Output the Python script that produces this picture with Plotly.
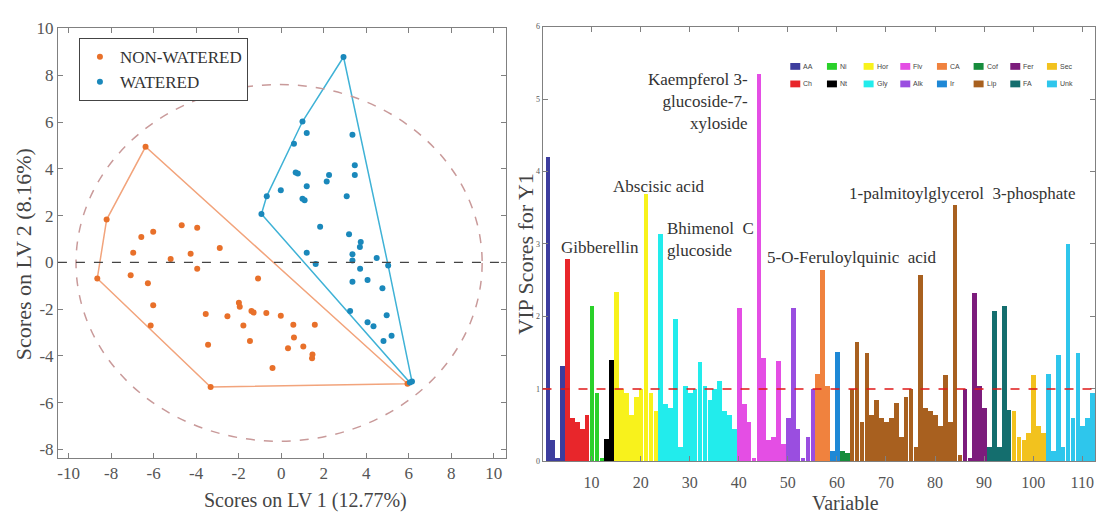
import plotly.graph_objects as go

# ---------------- Left panel data (PLS-DA scores) ----------------
nonwatered_x = [-6.38, -8.21, -6.58, -6.02, -4.68, -3.95, -6.96, -5.2, -4.26, -2.89,
                -8.65, -7.08, -6.27, -3.95, -1.09, -6.02, -6.14, -3.55, -3.44, -2.53,
                -1.99, -1.95, -1.78, -1.4, -1.3, -1.47, -0.7, -0.02, 0.57, 0.6,
                0.32, 1.04, 1.47, 1.45, 1.58, -0.41, -3.32, 5.94]
nonwatered_y = [4.94, 1.83, 1.08, 1.31, 1.59, 1.48, 0.41, 0.14, 0.37, 0.61,
                -0.69, -0.55, -0.9, -0.28, -0.69, -1.84, -2.7, -2.21, -3.53, -2.31,
                -1.73, -1.9, -2.7, -2.08, -2.15, -3.36, -2.17, -2.28, -2.67, -3.22,
                -3.67, -3.6, -3.94, -4.1, -2.67, -4.52, -5.33, -5.19]
watered_x = [2.93, 1.0, 1.2, 0.6, 3.35, 0.68, 0.78, 1.2, 1.0, 1.1,
             2.25, 2.14, 3.46, 3.46, 3.08, -0.02, -0.68, -0.93, 1.83, 3.19,
             3.74, 3.7, 1.2, 3.35, 4.49, 1.62, 5.03, 3.35, 3.71, 3.35,
             4.06, 4.76, 3.24, 4.96, 4.06, 4.34, 4.81, 5.19, 6.05, 6.15]
watered_y = [8.78, 6.02, 5.53, 5.07, 5.46, 3.84, 3.8, 3.25, 2.72, 2.65,
             3.73, 3.46, 4.15, 3.73, 2.83, 3.08, 2.83, 2.07, 1.52, 1.2,
             0.87, 0.65, 0.41, 0.34, 0.18, -0.07, -0.14, 0.08, -0.28, -0.83,
             -0.76, -1.11, -2.08, -2.26, -2.56, -2.73, -3.36, -3.14, -5.14, -5.1]
ellipse_x = [-9.65, 9.45]
ellipse_y = [-7.65, 7.6]
left_xticks = list(range(-10, 11, 2))
left_yticks = list(range(-8, 11, 2))

# ---------------- Right panel data (VIP scores) ----------------
group_names = ["AA", "Ch", "Ni", "Nt", "Hor", "Gly", "Flv", "Alk",
               "CA", "Ir", "Cof", "Lip", "Fer", "FA", "Sec", "Unk"]
group_start = [1, 5, 10, 13, 15, 24, 40, 50, 56, 59, 61, 63, 86, 91, 96, 103]
vip = [4.2, 0.3, 0.05, 1.33,
       2.8, 0.6, 0.55, 0.45, 0.65,
       2.15, 0.95, 0.05,
       0.32, 1.4,
       2.35, 1.0, 0.95, 0.65, 0.9, 1.0, 3.7, 0.95, 0.7,
       3.15, 0.8, 0.75, 1.97, 0.2, 1.05, 0.95, 1.0, 1.38, 1.05, 0.85, 1.0, 1.12, 0.7, 0.65, 0.45,
       2.13, 0.8, 0.55, 0.05, 5.35, 1.43, 0.3, 0.35, 1.39, 0.25,
       0.6, 2.12, 0.45, 0.05, 0.35, 1.0,
       1.22, 2.65, 1.05,
       0.15, 1.52,
       0.15, 0.12,
       1.0, 1.65, 0.55, 1.5, 0.65, 0.85, 0.6, 0.55, 0.6, 0.82, 0.35, 0.9, 1.0, 0.2, 2.58,
       0.75, 0.7, 0.65, 0.5, 1.2, 0.55, 3.55, 0.1,
       1.0, 0.05, 2.33, 1.05, 0.75,
       0.2, 2.08, 0.2, 2.15, 0.72,
       0.7, 0.35, 0.3, 0.4, 1.2, 0.5, 0.4,
       1.22, 0.15, 1.48, 0.2, 3.0, 0.6, 1.5, 0.5, 0.6, 0.95]
legend_row1 = ["AA", "Ni", "Hor", "Flv", "CA", "Cof", "Fer", "Sec"]
legend_row2 = ["Ch", "Nt", "Gly", "Alk", "Ir", "Lip", "FA", "Unk"]
right_xticks = list(range(10, 111, 10))
right_yticks = list(range(0, 7))
vip_threshold = 1

bar_labels = ["Gibberellin", "Abscisic acid", "Bhimenol\u00a0\u00a0C<br>glucoside",
              "Kaempferol 3-<br>glucoside-7-<br>xyloside",
              "5-O-Feruloylquinic\u00a0\u00a0acid",
              "1-palmitoylglycerol\u00a0\u00a03-phosphate"]

# ---------------- styles ----------------
group_colors = {"AA": "#3d3d9e", "Ch": "#e8262b", "Ni": "#2ad12a", "Nt": "#000000",
                "Hor": "#f8f21c", "Gly": "#22ecec", "Flv": "#e44ee4", "Alk": "#9a4ee0",
                "CA": "#f0823e", "Ir": "#1e88d6", "Cof": "#168c3c", "Lip": "#a8601f",
                "Fer": "#7c1c7c", "FA": "#146e6e", "Sec": "#f2c21e", "Unk": "#2ec6ec"}
SERIF = "Liberation Serif"
W, H = 1098, 520


def hull(xs, ys):
    pts = sorted(set(zip(xs, ys)))

    def cross(o, a, b):
        return (a[0] - o[0]) * (b[1] - o[1]) - (a[1] - o[1]) * (b[0] - o[0])
    lower, upper = [], []
    for p in pts:
        while len(lower) >= 2 and cross(lower[-2], lower[-1], p) <= 0:
            lower.pop()
        lower.append(p)
    for p in reversed(pts):
        while len(upper) >= 2 and cross(upper[-2], upper[-1], p) <= 0:
            upper.pop()
        upper.append(p)
    h = lower[:-1] + upper[:-1]
    h.append(h[0])
    return [p[0] for p in h], [p[1] for p in h]


fig = go.Figure()

# hulls
hx, hy = hull(nonwatered_x, nonwatered_y)
fig.add_trace(go.Scatter(x=hx, y=hy, mode="lines", line=dict(color="#f2a47c", width=1.5),
                         showlegend=False, hoverinfo="skip", xaxis="x", yaxis="y"))
hx, hy = hull(watered_x, watered_y)
fig.add_trace(go.Scatter(x=hx, y=hy, mode="lines", line=dict(color="#3fb2d6", width=1.5),
                         showlegend=False, hoverinfo="skip", xaxis="x", yaxis="y"))

fig.add_trace(go.Scatter(x=nonwatered_x, y=nonwatered_y, mode="markers", name="NON-WATERED",
                         marker=dict(color="#e8702a", size=6), xaxis="x", yaxis="y"))
fig.add_trace(go.Scatter(x=watered_x, y=watered_y, mode="markers", name="WATERED",
                         marker=dict(color="#1a88bb", size=6), xaxis="x", yaxis="y"))

# bars
bounds = group_start + [len(vip) + 1]
for gi, g in enumerate(group_names):
    idx = list(range(bounds[gi], bounds[gi + 1]))
    fig.add_trace(go.Bar(x=idx, y=[vip[i - 1] for i in idx], width=0.95,
                         marker=dict(color=group_colors[g], line=dict(width=0)),
                         name=g, showlegend=False, xaxis="x2", yaxis="y2"))

shapes = []
# ellipse and zero line (left)
shapes.append(dict(type="circle", xref="x", yref="y", x0=ellipse_x[0], x1=ellipse_x[1],
                   y0=ellipse_y[0], y1=ellipse_y[1],
                   line=dict(color="#c99a9a", width=1.5, dash="dash")))
shapes.append(dict(type="line", xref="x domain", yref="y", x0=0, x1=1, y0=0, y1=0,
                   line=dict(color="#444444", width=1.2, dash="dash")))
# VIP threshold
shapes.append(dict(type="line", xref="x2 domain", yref="y2", x0=0, x1=1,
                   y0=vip_threshold, y1=vip_threshold,
                   line=dict(color="#e01818", width=1.6, dash="dash")))

annotations = []
# manual group legend (right panel)
for row, names in enumerate([legend_row1, legend_row2]):
    cy = 59 + row * 18
    for k, g in enumerate(names):
        cx = 795 + k * 36.7
        shapes.append(dict(type="rect", xref="paper", yref="paper",
                           x0=(cx - 5) / W, x1=(cx + 5) / W,
                           y0=1 - (cy + 3.5) / H, y1=1 - (cy - 3.5) / H,
                           fillcolor=group_colors[g], line=dict(width=0)))
        annotations.append(dict(xref="paper", yref="paper", x=(cx + 6) / W, y=1 - cy / H,
                                text=g, showarrow=False, xanchor="left", yanchor="middle",
                                font=dict(family="Arial", size=7, color="#444")))

# bar labels (data coords of right panel)
lab_pos = [(11.8, 2.95, "center"), (23.7, 3.8, "center"), (24.9, 3.06, "left"),
           (42.2, 4.97, "right"), (45.3, 2.82, "left"), (62.0, 3.69, "left")]
for t, (x, y, anc) in zip(bar_labels, lab_pos):
    annotations.append(dict(xref="x2", yref="y2", x=x, y=y, text=t, showarrow=False,
                            xanchor=anc, yanchor="middle", align=anc,
                            font=dict(family=SERIF, size=17, color="#333")))

# axis titles
tfont = dict(family=SERIF, size=20, color="#444")
annotations += [
    dict(xref="paper", yref="paper", x=305 / W, y=1 - 505 / H, text="Scores on LV 1 (12.77%)",
         showarrow=False, font=tfont, xanchor="center", yanchor="middle"),
    dict(xref="paper", yref="paper", x=22 / W, y=1 - 252 / H, text="Scores on LV 2 (8.16%)",
         showarrow=False, font=dict(family=SERIF, size=22, color="#444"), textangle=-90,
         xanchor="center", yanchor="middle"),
    dict(xref="paper", yref="paper", x=525 / W, y=1 - 252 / H, text="VIP Scores for Y1",
         showarrow=False, font=dict(family=SERIF, size=22, color="#444"), textangle=-90,
         xanchor="center", yanchor="middle"),
    dict(xref="paper", yref="paper", x=845 / W, y=1 - 508 / H, text="Variable",
         showarrow=False, font=tfont, xanchor="center", yanchor="middle"),
]

axis_common = dict(showline=True, linecolor="#808080", linewidth=1, mirror="ticks",
                   ticks="inside", ticklen=5, tickcolor="#808080", showgrid=False,
                   zeroline=False)
tickfont = dict(family=SERIF, size=17, color="#555")

fig.update_layout(
    width=W, height=H, margin=dict(l=0, r=0, t=0, b=0),
    paper_bgcolor="white", plot_bgcolor="white",
    barmode="overlay", bargap=0,
    shapes=shapes, annotations=annotations,
    legend=dict(x=78 / W, y=1 - 30 / H, xanchor="left", yanchor="top",
                bordercolor="#444", borderwidth=1, bgcolor="white",
                font=dict(family=SERIF, size=17, color="#333"), tracegroupgap=0,
                itemwidth=30),
    xaxis=dict(domain=[57 / W, 505 / W], range=[-10.5, 10.55], anchor="y",
               tickvals=left_xticks, ticktext=[str(v) for v in left_xticks],
               tickfont=tickfont, **axis_common),
    yaxis=dict(domain=[1 - 461 / H, 1 - 20 / H], range=[-8.35, 10], anchor="x",
               tickvals=left_yticks, ticktext=[str(v) for v in left_yticks],
               tickfont=tickfont, **axis_common),
    xaxis2=dict(domain=[542 / W, 1095 / W], range=[0, 112.6], anchor="y2",
                tickvals=right_xticks, ticktext=[str(v) for v in right_xticks],
                tickfont=dict(family=SERIF, size=16, color="#555"), ticklabelstandoff=6,
                **axis_common),
    yaxis2=dict(domain=[1 - 465 / H, 1 - 18 / H], range=[0, 6], anchor="x2",
                tickvals=right_yticks, ticktext=[str(v) for v in right_yticks],
                tickfont=dict(family=SERIF, size=8, color="#555"), **axis_common),
)

fig.write_html("out.html")
